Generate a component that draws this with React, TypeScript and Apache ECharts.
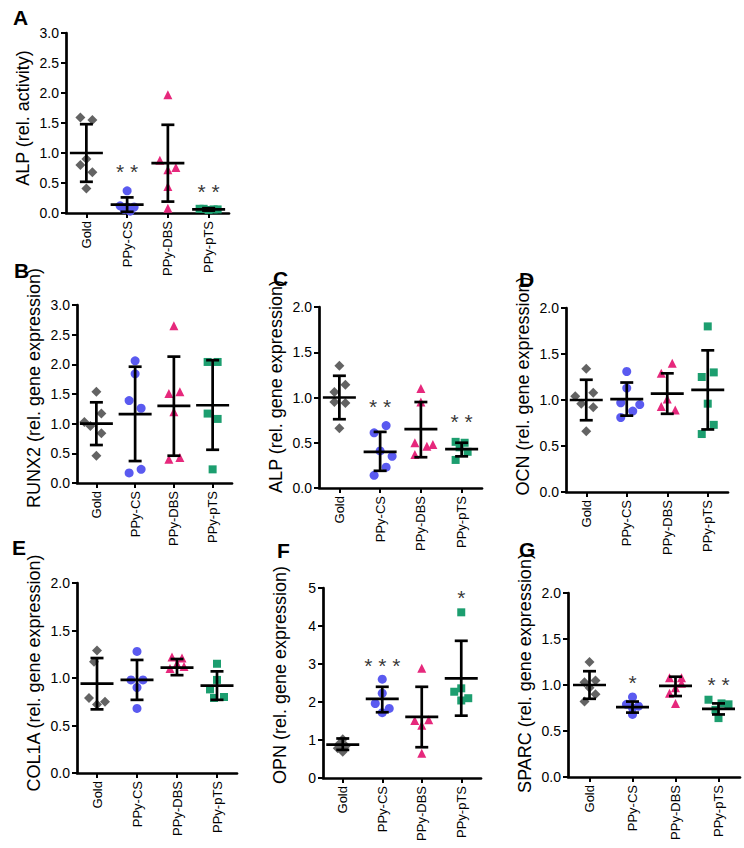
import React, { useEffect, useRef } from "react";
import * as echarts from "echarts";

const CATEGORIES = ["Gold", "PPy-CS", "PPy-DBS", "PPy-pTS"];

// ---- Panel A: ALP (rel. activity)
const A_GOLD = [1.59, 1.55, 0.8, 0.9, 0.68, 0.41];
const A_CS = [0.37, 0.12, 0.1, 0.06, 0.03, 0.1];
const A_DBS = [1.97, 0.88, 0.72, 0.76, 0.44, 0.08];
const A_PTS = [0.07, 0.06, 0.05, 0.07, 0.06];
const A_MEAN = [1.0, 0.14, 0.83, 0.06];
const A_LOW = [0.52, 0.02, 0.19, 0.04];
const A_HIGH = [1.48, 0.26, 1.47, 0.08];
const A_STARS = ["", "* *", "", "* *"];
const A_STAR_AT = [0, 0.77, 0, 0.45];

// ---- Panel B: RUNX2
const B_GOLD = [1.54, 1.17, 1.03, 0.96, 0.84, 0.46];
const B_CS = [2.06, 1.84, 1.39, 1.26, 0.23, 0.17];
const B_DBS = [2.65, 1.51, 1.54, 1.2, 0.4, 0.43];
const B_PTS = [2.04, 2.04, 1.17, 1.08, 0.23];
const B_MEAN = [1.0, 1.16, 1.3, 1.31];
const B_LOW = [0.64, 0.37, 0.46, 0.56];
const B_HIGH = [1.36, 1.96, 2.13, 2.07];

// ---- Panel C: ALP gene expression
const C_GOLD = [1.35, 1.06, 1.14, 0.95, 0.94, 0.66];
const C_CS = [0.61, 0.69, 0.41, 0.35, 0.23, 0.14];
const C_DBS = [1.1, 0.95, 0.5, 0.46, 0.48, 0.37];
const C_PTS = [0.51, 0.5, 0.45, 0.4, 0.31];
const C_MEAN = [1.0, 0.4, 0.65, 0.43];
const C_LOW = [0.76, 0.19, 0.34, 0.35];
const C_HIGH = [1.24, 0.62, 0.95, 0.5];
const C_STARS = ["", "* *", "", "* *"];
const C_STAR_AT = [0, 0.96, 0, 0.79];

// ---- Panel D: OCN
const D_GOLD = [1.34, 1.04, 1.08, 0.96, 0.92, 0.66];
const D_CS = [1.31, 1.13, 0.97, 0.88, 0.95, 0.81];
const D_DBS = [1.29, 1.4, 1.01, 0.93, 0.89];
const D_PTS = [1.8, 1.25, 1.3, 0.96, 0.73, 0.63];
const D_MEAN = [1.0, 1.01, 1.07, 1.11];
const D_LOW = [0.78, 0.83, 0.85, 0.68];
const D_HIGH = [1.22, 1.19, 1.29, 1.54];

// ---- Panel E: COL1A
const E_GOLD = [1.29, 1.17, 0.79, 0.75, 0.72];
const E_CS = [1.28, 0.98, 0.98, 0.9, 0.68];
const E_DBS = [1.22, 1.21, 1.15, 1.1, 1.12];
const E_PTS = [1.15, 0.98, 0.88, 0.8, 0.79];
const E_MEAN = [0.94, 0.98, 1.11, 0.92];
const E_LOW = [0.67, 0.77, 1.03, 0.77];
const E_HIGH = [1.21, 1.19, 1.2, 1.07];

// ---- Panel F: OPN
const F_GOLD = [1.02, 0.91, 0.84, 0.78, 0.69];
const F_CS = [2.6, 2.23, 1.96, 1.83, 1.72];
const F_DBS = [2.89, 1.51, 1.53, 1.39, 0.65];
const F_PTS = [4.36, 2.27, 2.36, 2.04, 2.1];
const F_MEAN = [0.88, 2.08, 1.61, 2.62];
const F_LOW = [0.74, 1.73, 0.81, 1.64];
const F_HIGH = [1.04, 2.4, 2.4, 3.61];
const F_STARS = ["", "* * *", "", "*"];
const F_STAR_AT = [0, 3.08, 0, 4.88];

// ---- Panel G: SPARC
const G_GOLD = [1.25, 1.03, 1.05, 0.97, 0.9, 0.82];
const G_CS = [0.87, 0.79, 0.77, 0.75, 0.68];
const G_DBS = [1.08, 1.08, 0.97, 0.91, 0.8, 1.02];
const G_PTS = [0.84, 0.8, 0.73, 0.79, 0.64];
const G_MEAN = [1.0, 0.76, 0.99, 0.74];
const G_LOW = [0.85, 0.7, 0.88, 0.68];
const G_HIGH = [1.15, 0.82, 1.09, 0.8];
const G_STARS = ["", "*", "", "* *"];
const G_STAR_AT = [0, 1.08, 0, 1.06];

// ---- horizontal scatter of points (px), one list per group
const A_JITTER = [[-6, 6, -6, 0, 6, 0], [0, -7, 7, -3, 3, 0], [0, -8, 0, 8, 0, 0], [-5, 5, 0, -9, 9]];
const B_JITTER = [[0, 5, -12, -6, 5, 0], [0, 0, -6, 6, 6, -6], [0, -5, 6, 0, -5, 6], [-5, 5, -5, 5, 0]];
const C_JITTER = [[0, -5, 6, -5, 6, 0], [-6, 6, 0, 12, 6, -6], [0, 0, -6, 6, 12, -6], [-6, 3, -2, 6, -6]];
const D_JITTER = [[0, -11, 7, -5, 7, 0], [0, 0, -6, 6, 13, -6], [-6, 5, 0, -6, 8], [0, -6, 6, 0, 6, -6]];
const E_JITTER = [[0, -3, -8, 8, 0], [0, -6, 6, 0, 0], [-5, 5, 0, -7, 7], [0, 0, -7, 7, -3]];
const F_JITTER = [[0, -3, 3, -5, 0], [0, 0, -7, 7, 0], [0, -7, 7, 0, 0], [0, -7, 0, 0, 7]];
const G_JITTER = [[0, -5, 6, 0, 6, -5], [0, -6, 6, 0, 0], [-6, 6, 0, -6, 0, 6], [-10, 3, -3, 10, 0]];

const FONT = "Liberation Sans, Arial, Helvetica, sans-serif";
const GROUP_SYMBOLS = ["diamond", "circle", "triangle", "rect"];
const GROUP_SIZES = [10, 9, 9, 8];
const GROUP_COLORS = ["#636363", "#5a5af0", "#e6287c", "#1c9e6f"];

const PANELS = [
  { letter: "A", lx: 13, ly: 17, name: "ALP (rel. activity)", max: 3, interval: 0.5, dec: 1, grid: { left: 66, top: 33, width: 163, height: 180 }, shift: 5,
    points: [A_GOLD, A_CS, A_DBS, A_PTS], jitter: A_JITTER, mean: A_MEAN, low: A_LOW, high: A_HIGH, stars: A_STARS, starAt: A_STAR_AT },
  { letter: "B", lx: 14, ly: 270, name: "RUNX2 (rel. gene expression)", max: 3, interval: 0.5, dec: 1, grid: { left: 77, top: 305, width: 155, height: 178 }, shift: 6,
    points: [B_GOLD, B_CS, B_DBS, B_PTS], jitter: B_JITTER, mean: B_MEAN, low: B_LOW, high: B_HIGH, stars: null, starAt: null },
  { letter: "C", lx: 273, ly: 278, name: "ALP (rel. gene expression)", max: 2, interval: 0.5, dec: 1, grid: { left: 319, top: 307, width: 163, height: 181 }, shift: 11,
    points: [C_GOLD, C_CS, C_DBS, C_PTS], jitter: C_JITTER, mean: C_MEAN, low: C_LOW, high: C_HIGH, stars: C_STARS, starAt: C_STAR_AT },
  { letter: "D", lx: 519, ly: 279, name: "OCN (rel. gene expression)", max: 2, interval: 0.5, dec: 1, grid: { left: 566, top: 308, width: 162, height: 184 }, shift: 14,
    points: [D_GOLD, D_CS, D_DBS, D_PTS], jitter: D_JITTER, mean: D_MEAN, low: D_LOW, high: D_HIGH, stars: null, starAt: null },
  { letter: "E", lx: 12, ly: 547, name: "COL1A (rel. gene expression)", max: 2, interval: 0.5, dec: 1, grid: { left: 77, top: 583, width: 160, height: 190 }, shift: 5,
    points: [E_GOLD, E_CS, E_DBS, E_PTS], jitter: E_JITTER, mean: E_MEAN, low: E_LOW, high: E_HIGH, stars: null, starAt: null },
  { letter: "F", lx: 277, ly: 550, name: "OPN (rel. gene expression)", max: 5, interval: 1, dec: 0, grid: { left: 323, top: 588, width: 158, height: 190 }, shift: 8,
    points: [F_GOLD, F_CS, F_DBS, F_PTS], jitter: F_JITTER, mean: F_MEAN, low: F_LOW, high: F_HIGH, stars: F_STARS, starAt: F_STAR_AT },
  { letter: "G", lx: 519, ly: 549, name: "SPARC (rel. gene expression)", max: 2, interval: 0.5, dec: 1, grid: { left: 568, top: 593, width: 172, height: 184 }, shift: 12,
    points: [G_GOLD, G_CS, G_DBS, G_PTS], jitter: G_JITTER, mean: G_MEAN, low: G_LOW, high: G_HIGH, stars: G_STARS, starAt: G_STAR_AT },
];

function errorBarRender(params: any, api: any) {
  const x = api.value(0);
  const pm = api.coord([x, api.value(1)]);
  const pl = api.coord([x, api.value(2)]);
  const ph = api.coord([x, api.value(3)]);
  const style = { stroke: "#000", lineWidth: 2.7, fill: "none" };
  const cap = 6.5;
  const half = 16.5;
  return {
    type: "group",
    children: [
      { type: "line", shape: { x1: pm[0], y1: ph[1], x2: pm[0], y2: pl[1] }, style },
      { type: "line", shape: { x1: pm[0] - cap, y1: ph[1], x2: pm[0] + cap, y2: ph[1] }, style },
      { type: "line", shape: { x1: pm[0] - cap, y1: pl[1], x2: pm[0] + cap, y2: pl[1] }, style },
      { type: "line", shape: { x1: pm[0] - half, y1: pm[1], x2: pm[0] + half, y2: pm[1] }, style },
    ],
  };
}

function buildOption() {
  const grids: any[] = [];
  const xAxes: any[] = [];
  const yAxes: any[] = [];
  const series: any[] = [];
  const graphics: any[] = [];

  PANELS.forEach((p, idx) => {
    grids.push({ ...p.grid, containLabel: false });
    xAxes.push({
      type: "category",
      gridIndex: idx,
      data: CATEGORIES,
      boundaryGap: true,
      axisLine: { show: true, lineStyle: { color: "#000", width: 2.7 } },
      axisTick: { show: true, alignWithLabel: true, length: 5, lineStyle: { color: "#000", width: 2 } },
      axisLabel: { rotate: 90, fontSize: 13, color: "#000", margin: 8, fontFamily: FONT },
      splitLine: { show: false },
    });
    yAxes.push({
      type: "value",
      gridIndex: idx,
      min: 0,
      max: p.max,
      interval: p.interval,
      name: p.name,
      nameLocation: "middle",
      nameGap: 34,
      nameTextStyle: { fontSize: 18, color: "#000", fontFamily: FONT, padding: [0, 0, 0, p.shift * 2] },
      axisLine: { show: true, lineStyle: { color: "#000", width: 2.7 } },
      axisTick: { show: true, length: 5, lineStyle: { color: "#000", width: 2 } },
      axisLabel: { fontSize: 14, color: "#000", margin: 7, fontFamily: FONT, formatter: (v: number) => v.toFixed(p.dec) },
      splitLine: { show: false },
    });

    p.points.forEach((vals, g) => {
      series.push({
        type: "scatter",
        xAxisIndex: idx,
        yAxisIndex: idx,
        symbol: GROUP_SYMBOLS[g],
        symbolSize: GROUP_SIZES[g],
        itemStyle: { color: GROUP_COLORS[g], opacity: 1 },
        z: 2,
        data: vals.map((v, k) => ({ value: [g, v], symbolOffset: [p.jitter[g][k] || 0, 0] })),
      });
    });

    series.push({
      type: "custom",
      xAxisIndex: idx,
      yAxisIndex: idx,
      renderItem: errorBarRender,
      z: 5,
      data: p.mean.map((m, i) => [i, m, p.low[i], p.high[i]]),
    });

    if (p.stars) {
      const starData: any[] = [];
      p.stars.forEach((s, i) => {
        if (s) starData.push({ value: [i, p.starAt![i]], star: s });
      });
      series.push({
        type: "scatter",
        xAxisIndex: idx,
        yAxisIndex: idx,
        symbolSize: 1,
        itemStyle: { color: "rgba(0,0,0,0)" },
        z: 6,
        data: starData,
        label: {
          show: true,
          position: "inside",
          offset: [0, 5],
          formatter: (q: any) => q.data.star,
          fontSize: 21,
          color: "#000",
          fontFamily: FONT,
        },
      });
    }

    graphics.push({
      type: "text",
      x: p.lx,
      y: p.ly,
      style: {
        text: p.letter,
        fontSize: 21,
        fontWeight: "bold",
        fontFamily: FONT,
        fill: "#000",
        align: "left",
        verticalAlign: "middle",
      },
    });
  });

  return {
    animation: false,
    backgroundColor: "#fff",
    grid: grids,
    xAxis: xAxes,
    yAxis: yAxes,
    series,
    graphic: graphics,
  };
}

export default function App() {
  const ref = useRef<HTMLDivElement>(null);
  useEffect(() => {
    if (!ref.current) return;
    const chart = echarts.init(ref.current, undefined, { renderer: "svg" });
    chart.setOption(buildOption() as any);
    return () => chart.dispose();
  }, []);
  return (
    <div
      ref={ref}
      style={{ position: "absolute", left: 0, top: 0, width: 744, height: 848, background: "#fff" }}
    />
  );
}
